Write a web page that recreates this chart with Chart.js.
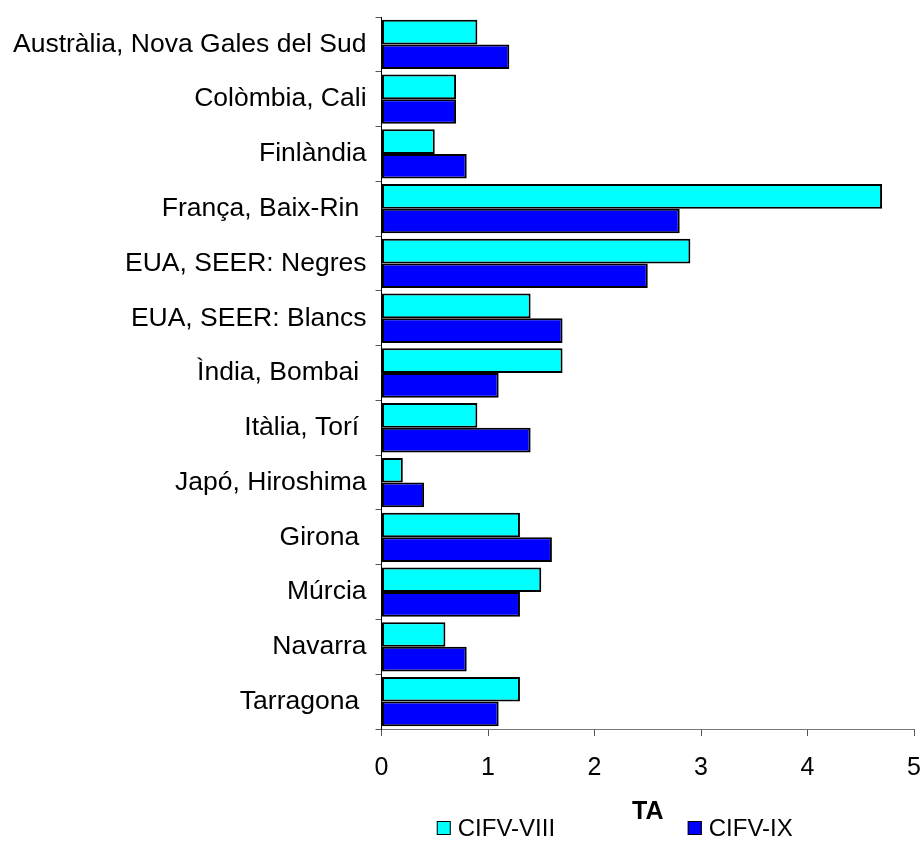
<!DOCTYPE html>
<html>
<head>
<meta charset="utf-8">
<title>TA</title>
<script src="https://cdn.jsdelivr.net/npm/chart.js@4/dist/chart.umd.min.js"></script>
<style>
  body { margin: 0; background: #fff; }
  #wrap { width: 921px; height: 841px; }
</style>
</head>
<body>
<div id="wrap"><canvas id="myChart" width="921" height="841"></canvas></div>
<script>
// registres
var labels = ['Austràlia, Nova Gales del Sud', 'Colòmbia, Cali', 'Finlàndia', 'França, Baix-Rin ',
	'EUA, SEER: Negres', 'EUA, SEER: Blancs', 'Ìndia, Bombai ', 'Itàlia, Torí ',
	'Japó, Hiroshima', 'Girona ', 'Múrcia', 'Navarra', 'Tarragona '];
var cifv8 = [0.9, 0.7, 0.5, 4.7, 2.9, 1.4, 1.7, 0.9, 0.2, 1.3, 1.5, 0.6, 1.3];
var cifv9 = [1.2, 0.7, 0.8, 2.8, 2.5, 1.7, 1.1, 1.4, 0.4, 1.6, 1.3, 0.8, 1.1];
var xTicks = [0, 1, 2, 3, 4, 5];

var FONT = '"Liberation Sans", Arial, sans-serif';

// legend drawn by hand, spread out under the axis like the original
var legendPlugin = {
	id: 'legendBelow',
	afterDraw: function(chart) {
		var ctx = chart.ctx;
		var a = chart.chartArea;
		var cx = (a.left + a.right) / 2;
		var y = chart.height - 13;
		var items = [
			{ x: cx - 211, ds: chart.data.datasets[0] },
			{ x: cx + 40, ds: chart.data.datasets[1] }
		];
		ctx.save();
		ctx.font = '24px ' + FONT;
		ctx.textBaseline = 'middle';
		items.forEach(function(it) {
			ctx.fillStyle = it.ds.backgroundColor;
			ctx.fillRect(it.x, y - 7, 14, 14);
			ctx.strokeStyle = '#000';
			ctx.lineWidth = 1;
			ctx.strokeRect(it.x + 0.5, y - 6.5, 13, 13);
			ctx.fillStyle = '#000';
			ctx.fillText(it.ds.label, it.x + 21, y + 1);
		});
		ctx.restore();
	}
};

var ctx = document.getElementById('myChart').getContext('2d');
var chart = new Chart(ctx, {
	type: 'bar',
	data: {
		labels: labels,
		datasets: [{
			label: 'CIFV-VIII',
			data: cifv8,
			backgroundColor: '#00FFFF',
			borderColor: '#000',
			borderWidth: 2,
			borderSkipped: false
		}, {
			label: 'CIFV-IX',
			data: cifv9,
			backgroundColor: '#0000FF',
			borderColor: '#000',
			borderWidth: 2,
			borderSkipped: false
		}]
	},
	options: {
		indexAxis: 'y',
		responsive: false,
		animation: false,
		datasets: { bar: { categoryPercentage: 0.9, barPercentage: 1.0 } },
		layout: { padding: { left: 4, right: 0, top: 17, bottom: 16 } },
		plugins: {
			legend: { display: false },
			tooltip: { enabled: false }
		},
		scales: {
			x: {
				min: 0,
				max: 5,
				afterBuildTicks: function(axis) {
					axis.ticks = xTicks.map(function(v) { return { value: v }; });
				},
				afterFit: function(scale) {
					scale.paddingRight = 7;
				},
				grid: { drawOnChartArea: false, drawTicks: true, tickLength: 7, color: '#555' },
				border: { display: true, color: '#777', width: 1 },
				ticks: { color: '#000', font: { family: FONT, size: 25 }, padding: 17, maxRotation: 0 },
				title: {
					display: true,
					text: 'TA',
					color: '#000',
					font: { family: FONT, size: 25, weight: 'bold', lineHeight: 1 },
					padding: { top: 0, bottom: 0 }
				}
			},
			y: {
				afterFit: function(scale) {
					scale.paddingTop = 0;
					scale.paddingBottom = 0;
				},
				grid: { drawOnChartArea: false, drawTicks: true, tickLength: 6, color: '#555', offset: true },
				border: { display: true, color: '#000', width: 1 },
				ticks: { color: '#000', font: { family: FONT, size: 26.5 }, padding: 9, autoSkip: false }
			}
		}
	},
	plugins: [legendPlugin]
});
</script>
</body>
</html>
